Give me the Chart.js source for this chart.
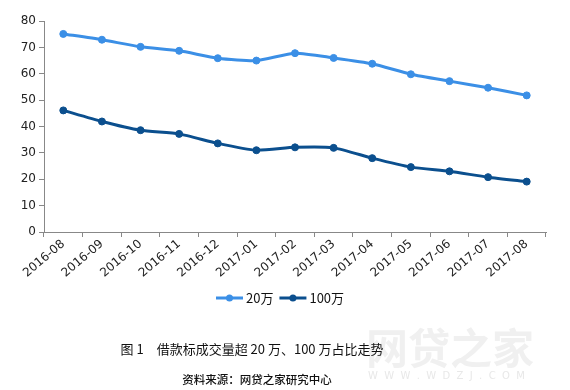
<!DOCTYPE html>
<html>
<head>
<meta charset="utf-8">
<script src="https://cdn.jsdelivr.net/npm/chart.js@4"></script>
<style>
  html, body { margin: 0; padding: 0; background: #fff; }
  #wrap { width: 570px; height: 390px; position: relative; }
</style>
</head>
<body>
<div id="wrap"><canvas id="chart"></canvas></div>
<script>
const months = ['2016-08', '2016-09', '2016-10', '2016-11', '2016-12', '2017-01', '2017-02',
  '2017-03', '2017-04', '2017-05', '2017-06', '2017-07', '2017-08'];
const over20 = [75.1, 72.9, 70.2, 68.7, 65.9, 65.0, 67.8, 66.0, 63.8, 59.8, 57.2, 54.7, 51.8];
const over100 = [46.1, 41.9, 38.6, 37.2, 33.6, 31.0, 32.1, 31.9, 28.0, 24.6, 23.0, 20.8, 19.1];
const seriesNames = ['20万', '100万'];
const caption = '图 1　借款标成交量超 20 万、100 万占比走势';
const source = '资料来源：网贷之家研究中心';

const colors = ['#3b8fe6', '#0b4f8e'];
const tickFont = { family: 'Tahoma, "DejaVu Sans", sans-serif', size: 12 };

// legend (line + dot) and the caption lines under the chart
const extras = {
  id: 'extras',
  afterDraw(chart) {
    const ctx = chart.ctx;
    ctx.save();

    // watermark
    ctx.fillStyle = '#f0f0f0';
    ctx.font = 'bold 42px "Noto Sans CJK SC", sans-serif';
    ctx.textBaseline = 'middle';
    ctx.textAlign = 'left';
    ctx.fillText('网贷之家', 366, 348);
    ctx.font = '10px "DejaVu Sans", sans-serif';
    ctx.fillStyle = '#e8e8e8';
    ctx.fillText('W  W  W  .  W  D  Z  J  .  C  O  M', 368, 376);

    // legend
    ctx.font = '13px "Noto Sans CJK SC", sans-serif';
    let x = 216;
    const y = 298;
    chart.data.datasets.forEach((ds) => {
      ctx.strokeStyle = ds.borderColor;
      ctx.fillStyle = ds.borderColor;
      ctx.lineWidth = 3;
      ctx.beginPath();
      ctx.moveTo(x, y);
      ctx.lineTo(x + 27, y);
      ctx.stroke();
      ctx.beginPath();
      ctx.arc(x + 13.5, y, 3.5, 0, Math.PI * 2);
      ctx.fill();
      ctx.fillStyle = '#111';
      ctx.fillText(ds.label, x + 30, y);
      x += 30 + ctx.measureText(ds.label).width + 6;
    });

    // caption and source
    ctx.fillStyle = '#111';
    ctx.textAlign = 'center';
    ctx.font = '13px "Noto Sans CJK SC", sans-serif';
    ctx.fillText(caption, 252, 349);
    ctx.font = '500 11.5px "Noto Sans CJK SC", sans-serif';
    ctx.fillText(source, 257, 380);
    ctx.restore();
  },
};

new Chart(document.getElementById('chart'), {
  type: 'line',
  data: {
    labels: months,
    datasets: [over20, over100].map((vals, i) => ({
      label: seriesNames[i],
      data: vals,
      borderColor: colors[i],
      backgroundColor: colors[i],
      borderWidth: 3,
      pointRadius: 3.5,
      pointBorderWidth: 1,
      pointHoverRadius: 3.5,
      tension: 0.2,
    })),
  },
  options: {
    responsive: true,
    maintainAspectRatio: false,
    animation: false,
    events: [],
    layout: { padding: { top: 21, right: 24, left: 0, bottom: 0 } },
    plugins: { legend: { display: false }, tooltip: { enabled: false } },
    scales: {
      x: {
        offset: true,
        grid: { display: true, offset: true, drawOnChartArea: false, tickLength: 5, color: '#888' },
        border: { color: '#888' },
        ticks: { color: '#222', font: tickFont, maxRotation: 40, minRotation: 40, padding: 0, autoSkip: false },
        afterFit(scale) { scale.height = 158; },
      },
      y: {
        min: 0,
        max: 80,
        grid: { display: true, drawOnChartArea: false, tickLength: 5, color: '#888' },
        border: { color: '#888' },
        ticks: { stepSize: 10, color: '#222', font: tickFont, padding: 3 },
        afterFit(scale) { scale.width = 44; },
      },
    },
  },
  plugins: [extras],
});
</script>
</body>
</html>
